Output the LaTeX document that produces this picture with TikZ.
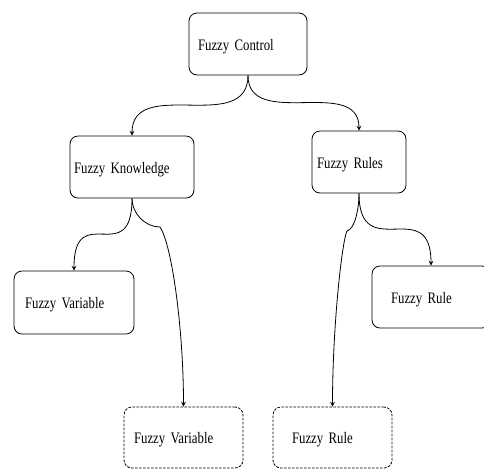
\documentclass[tikz,border=0pt]{standalone}
\usepackage{fontspec}
\newfontfamily\fuzzyfont{Liberation Serif}[FakeStretch=0.8,WordSpace=0.6]

\begin{document}
\begin{tikzpicture}[x=0.75pt,y=-0.75pt,>=stealth,line width=0.6pt,
    box/.style={draw, rounded corners=6pt, minimum height=46.5pt, align=left,
      text height=9pt, text depth=0pt,
      font=\fuzzyfont\fontsize{12}{14}\selectfont},
    ghost/.style={box, dash pattern=on 2pt off 1pt},
    branch/.style={to path={.. controls (\tikztostart |- \tikztotarget)
      and (\tikztotarget |- \tikztostart) .. (\tikztotarget)}}]
    \useasboundingbox (0,0) rectangle (484,469);

    \node[box, text width=75pt, inner xsep=6.75pt] (ctrl) at (248,44) {Fuzzy Control};
    \node[box, text width=87pt, inner xsep=3pt] (know) at (132,167) {Fuzzy Knowledge};
    \node[box, text width=63pt, inner xsep=3.75pt] (rules) at (359,162) {Fuzzy Rules};
    \node[box, text width=73.5pt, inner xsep=8.25pt, minimum height=47.25pt] (var) at (74,302.5) {Fuzzy Variable};
    \node[box, text width=60pt, inner xsep=14.25pt] (rule) at (431,297) {Fuzzy Rule};
    \node[ghost, text width=74.25pt, inner xsep=7.5pt, minimum height=45.75pt] (varx) at (183.5,437.5) {Fuzzy Variable};
    \node[ghost, text width=60.75pt, inner xsep=14.25pt, minimum height=45.75pt] (rulex) at (332.5,437.5) {Fuzzy Rule};

    % bends of the two long links
    \coordinate (kv) at (160,227);
    \coordinate (rk) at (347,231);

    \path[->]
    (ctrl.south) edge [branch] (know.north)
    (ctrl.south) edge [branch] (rules.north)
    (know.south) edge [branch] (var.north)
    (rules.south) edge [branch] (rule.north);

    \draw[->] (know.south) .. controls +(0,15) and +(-15,0) .. (kv)
      .. controls +(12,18) and +(0,-77) .. (varx.north);
    \draw[->] (rules.south) .. controls +(0,15) and +(8,-2) .. (rk)
      .. controls +(-5,10) and +(0,-80) .. (rulex.north);
\end{tikzpicture}
\end{document}
